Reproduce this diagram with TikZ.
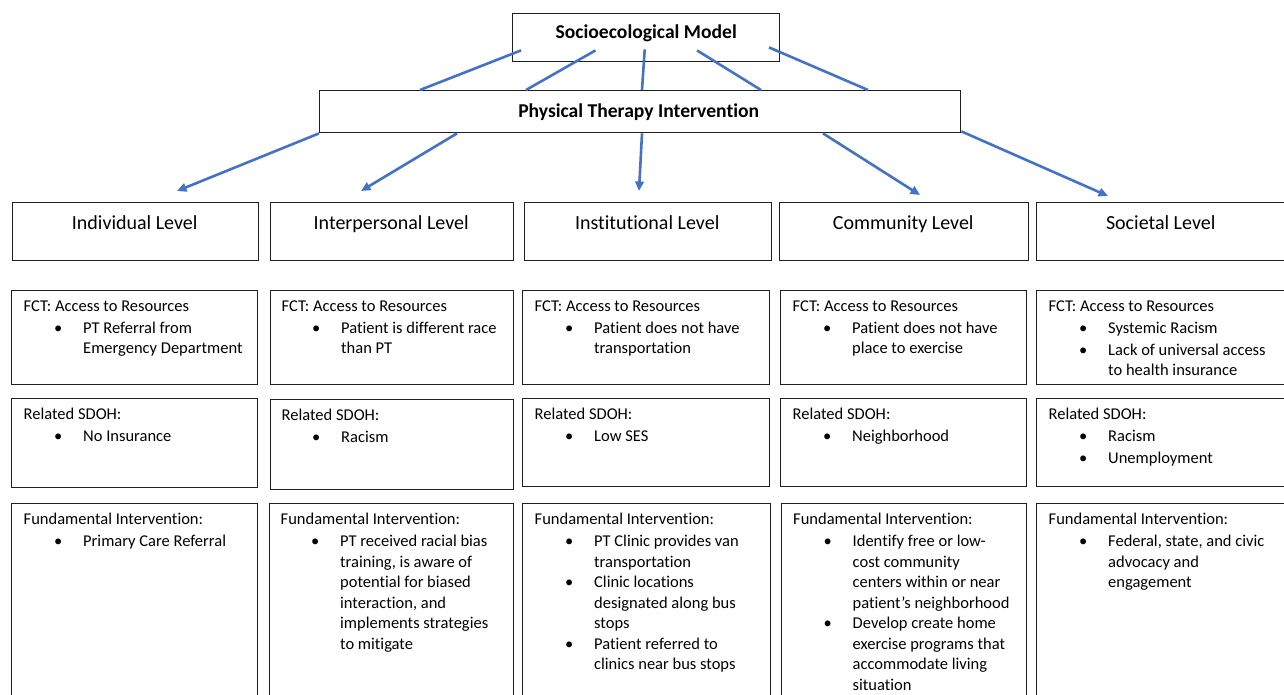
\documentclass[tikz,border=0pt]{standalone}
\usepackage{fontspec}
\setmainfont{Carlito}[Ligatures=NoCommon]
\usetikzlibrary{arrows.meta}
\definecolor{lineblue}{HTML}{4472C4}
\definecolor{boxline}{HTML}{1E1E1E}
\newcommand\bitem[1]{\hspace*{30.5pt}\makebox[29pt][l]{\textbullet}#1}
\newcommand\citem[1]{\hspace*{59.5pt}#1}
\begin{document}
\begin{tikzpicture}[x=1pt,y=-1pt,
  box/.style={draw=boxline, line width=1.4pt, inner sep=0pt, anchor=north west, fill=white},
  titlebold/.style={anchor=base, inner sep=0pt, font=\fontsize{19.6}{23}\selectfont\bfseries},
  leveltext/.style={anchor=base, inner sep=0pt, font=\fontsize{20}{24}\selectfont},
  body/.style={anchor=north west, inner sep=0pt, align=left, font=\fontsize{16.5}{20.5}\selectfont,
    execute at begin node={\rule{0pt}{12pt}}},
  conn/.style={draw=lineblue, line width=2.6pt},
  arr/.style={conn, -{Triangle[length=9.5pt,width=8.5pt]}}]
\useasboundingbox (0,0) rectangle (1284,694);
\fill[white] (0,0) rectangle (1284,694);
\clip (0,0) rectangle (1284,694);

% top boxes
\node[box, minimum width=267pt, minimum height=48pt] (sm) at (512,13) {};
\node[titlebold] (smt) at ([shift={(0,25.5)}]sm.north) {Socioecological Model};
\node[box, minimum width=641pt, minimum height=42pt] (pti) at (319,90) {};
\node[titlebold] (ptit) at ([shift={(-1.5,27)}]pti.north) {Physical Therapy Intervention};

% level boxes
\node[box, minimum width=246pt, minimum height=58pt] (lv1) at (12,202) {};
\node[box, minimum width=243pt, minimum height=58pt] (lv2) at (270,202) {};
\node[box, minimum width=247pt, minimum height=58pt] (lv3) at (524,202) {};
\node[box, minimum width=249pt, minimum height=58pt] (lv4) at (779,202) {};
\node[box, minimum width=260pt, minimum height=58pt] (lv5) at (1036,202) {};
\node[leveltext] (lv1t) at ([shift={(-1,27.5)}]lv1.north) {Individual Level};
\node[leveltext] (lv2t) at ([shift={(-1,27.5)}]lv2.north) {Interpersonal Level};
\node[leveltext] (lv3t) at ([shift={(-1,27.5)}]lv3.north) {Institutional Level};
\node[leveltext] (lv4t) at ([shift={(-1,27.5)}]lv4.north) {Community Level};
\node[leveltext] (lv5t) at ([shift={(-6,27.5)}]lv5.north) {Societal Level};

% FCT boxes
\node[box, minimum width=246pt, minimum height=94pt] (fct1) at (11,290) {};
\node[box, minimum width=243pt, minimum height=94pt] (fct2) at (270,290) {};
\node[box, minimum width=247pt, minimum height=94pt] (fct3) at (522,290) {};
\node[box, minimum width=246pt, minimum height=94pt] (fct4) at (780,290) {};
\node[box, minimum width=260pt, minimum height=94pt] (fct5) at (1036,290) {};

% SDOH boxes
\node[box, minimum width=246pt, minimum height=89pt] (sd1) at (11,398) {};
\node[box, minimum width=243pt, minimum height=90pt] (sd2) at (270,399) {};
\node[box, minimum width=247pt, minimum height=88pt] (sd3) at (522,398) {};
\node[box, minimum width=246pt, minimum height=88pt] (sd4) at (780,398) {};
\node[box, minimum width=260pt, minimum height=88pt] (sd5) at (1036,398) {};

% Fundamental boxes
\node[box, minimum width=246pt, minimum height=197pt] (fi1) at (11,503) {};
\node[box, minimum width=244pt, minimum height=197pt] (fi2) at (269,503) {};
\node[box, minimum width=248pt, minimum height=197pt] (fi3) at (522,503) {};
\node[box, minimum width=245pt, minimum height=197pt] (fi4) at (781,503) {};
\node[box, minimum width=260pt, minimum height=197pt] (fi5) at (1036,503) {};

% FCT texts
\node[body] (fct1t) at ([shift={(12.5,10.5)}]fct1.north west) {FCT: Access to Resources\\[1.5pt]
\bitem{PT Referral from}\\
\citem{Emergency Department}};
\node[body] (fct2t) at ([shift={(11.5,10.5)}]fct2.north west) {FCT: Access to Resources\\[1.5pt]
\bitem{Patient is different race}\\
\citem{than PT}};
\node[body] (fct3t) at ([shift={(12.5,10.5)}]fct3.north west) {FCT: Access to Resources\\[1.5pt]
\bitem{Patient does not have}\\
\citem{transportation}};
\node[body] (fct4t) at ([shift={(12.5,10.5)}]fct4.north west) {FCT: Access to Resources\\[1.5pt]
\bitem{Patient does not have}\\
\citem{place to exercise}};
\node[body] (fct5t) at ([shift={(12.5,10.5)}]fct5.north west) {FCT: Access to Resources\\[1.5pt]
\bitem{Systemic Racism}\\[1.5pt]
\bitem{Lack of universal access}\\
\citem{to health insurance}};

% SDOH texts
\node[body] (sd1t) at ([shift={(12.5,10)}]sd1.north west) {Related SDOH:\\[1.5pt]
\bitem{No Insurance}};
\node[body] (sd2t) at ([shift={(11.5,10)}]sd2.north west) {Related SDOH:\\[1.5pt]
\bitem{Racism}};
\node[body] (sd3t) at ([shift={(12.5,10)}]sd3.north west) {Related SDOH:\\[1.5pt]
\bitem{Low SES}};
\node[body] (sd4t) at ([shift={(12.5,10)}]sd4.north west) {Related SDOH:\\[1.5pt]
\bitem{Neighborhood}};
\node[body] (sd5t) at ([shift={(12.5,10)}]sd5.north west) {Related SDOH:\\[1.5pt]
\bitem{Racism}\\[1.5pt]
\bitem{Unemployment}};

% Fundamental texts
\node[body] (fi1t) at ([shift={(12.5,10)}]fi1.north west) {Fundamental Intervention:\\[1.5pt]
\bitem{Primary Care Referral}};
\node[body] (fi2t) at ([shift={(11.5,10)}]fi2.north west) {Fundamental Intervention:\\[1.5pt]
\bitem{PT received racial bias}\\
\citem{training, is aware of}\\
\citem{potential for biased}\\
\citem{interaction, and}\\
\citem{implements strategies}\\
\citem{to mitigate}};
\node[body] (fi3t) at ([shift={(12.5,10)}]fi3.north west) {Fundamental Intervention:\\[1.5pt]
\bitem{PT Clinic provides van}\\
\citem{transportation}\\
\bitem{Clinic locations}\\
\citem{designated along bus}\\
\citem{stops}\\
\bitem{Patient referred to}\\
\citem{clinics near bus stops}};
\node[body] (fi4t) at ([shift={(12,10)}]fi4.north west) {Fundamental Intervention:\\[1.5pt]
\bitem{Identify free or low-}\\
\citem{cost community}\\
\citem{centers within or near}\\
\citem{patient’s neighborhood}\\
\bitem{Develop create home}\\
\citem{exercise programs that}\\
\citem{accommodate living}\\
\citem{situation}};
\node[body] (fi5t) at ([shift={(12.5,10)}]fi5.north west) {Fundamental Intervention:\\[1.5pt]
\bitem{Federal, state, and civic}\\
\citem{advocacy and}\\
\citem{engagement}};

% connectors SM -> PTI
\draw[conn] ([shift={(9,-12)}]sm.south west) -- ([shift={(101,0)}]pti.north west);
\draw[conn] ([shift={(83.5,-12)}]sm.south west) -- ([shift={(207,0)}]pti.north west);
\draw[conn] ([shift={(132.7,-13)}]sm.south west) -- ([shift={(323,0)}]pti.north west);
\draw[conn] ([shift={(185,-12)}]sm.south west) -- ([shift={(442,0)}]pti.north west);
\draw[conn] ([shift={(257,-15)}]sm.south west) -- ([shift={(549,0)}]pti.north west);

% arrows PTI -> levels
\draw[arr] (pti.south west) -- ([shift={(165,-11)}]lv1.north west);
\draw[arr] ([shift={(138,0)}]pti.south west) -- ([shift={(91,-11)}]lv2.north west);
\draw[arr] ([shift={(323,0)}]pti.south west) -- ([shift={(115,-11)}]lv3.north west);
\draw[arr] ([shift={(504,0)}]pti.south west) -- ([shift={(141,-7)}]lv4.north west);
\draw[arr] ([shift={(0,-2)}]pti.south east) -- ([shift={(72,-6)}]lv5.north west);
\end{tikzpicture}
\end{document}
